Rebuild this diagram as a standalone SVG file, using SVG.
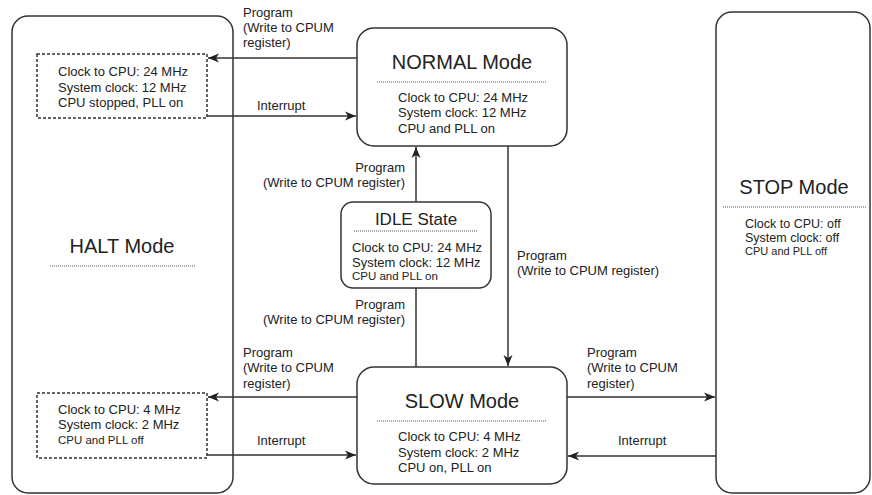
<svg xmlns="http://www.w3.org/2000/svg" width="872" height="495" viewBox="0 0 872 495">
<defs>
<marker id="ah" markerUnits="userSpaceOnUse" markerWidth="12" markerHeight="10" refX="11" refY="5" orient="auto">
<path d="M0,0.5 L11,5 L0,9.5 L3,5 z" fill="#222"/>
</marker>
<style>
text{font-family:"Liberation Sans",Arial,sans-serif;fill:#222}
.t{font-size:13px}
.s{font-size:11.5px}
.st{font-size:12.5px}
.ss{font-size:11px}
.l{font-size:13px}
.h{font-size:20px;text-anchor:middle}
.h2{font-size:17px;text-anchor:middle}
.box{fill:#fff;stroke:#333;stroke-width:1.5}
.dash{fill:none;stroke:#333;stroke-width:1.5;stroke-dasharray:3 2}
.dot{stroke:#555;stroke-width:1;stroke-dasharray:1 1}
.c{fill:none;stroke:#333;stroke-width:1.5}
.a{marker-end:url(#ah)}
</style>
</defs>
<rect width="872" height="495" fill="#fff"/>
<g id="halt">
<rect class="box" x="12" y="16" width="221" height="477" rx="16"/>
<text class="h" x="122" y="253">HALT Mode</text>
<line class="dot" x1="50" y1="266" x2="195" y2="266"/>
<rect class="dash" x="37" y="54" width="170" height="64"/>
<text class="t" x="58" y="76">Clock to CPU: 24 MHz</text>
<text class="t" x="58" y="92">System clock: 12 MHz</text>
<text class="t" x="58" y="107">CPU stopped, PLL on</text>
<rect class="dash" x="37" y="393" width="170" height="65"/>
<text class="t" x="58" y="414">Clock to CPU: 4 MHz</text>
<text class="t" x="58" y="429">System clock: 2 MHz</text>
<text class="s" x="58" y="444">CPU and PLL off</text>
</g>
<g id="stop">
<rect class="box" x="716" y="12" width="154" height="481" rx="16"/>
<text class="h" x="794" y="194">STOP Mode</text>
<line class="dot" x1="723" y1="207" x2="866" y2="207"/>
<text class="st" x="745" y="228">Clock to CPU: off</text>
<text class="st" x="745" y="242">System clock: off</text>
<text class="ss" x="745" y="255">CPU and PLL off</text>
</g>
<g id="normal">
<rect class="box" x="357" y="28" width="210" height="118" rx="17"/>
<text class="h" x="462" y="69">NORMAL Mode</text>
<line class="dot" x1="377" y1="82" x2="547" y2="82"/>
<text class="t" x="398" y="102">Clock to CPU: 24 MHz</text>
<text class="t" x="398" y="117">System clock: 12 MHz</text>
<text class="t" x="398" y="133">CPU and PLL on</text>
</g>
<g id="idle">
<rect class="box" x="341" y="202" width="150" height="86" rx="12"/>
<text class="h2" x="416" y="225">IDLE State</text>
<line class="dot" x1="354" y1="231" x2="477" y2="231"/>
<text class="t" x="352" y="252">Clock to CPU: 24 MHz</text>
<text class="t" x="352" y="267">System clock: 12 MHz</text>
<text class="s" x="352" y="280">CPU and PLL on</text>
</g>
<g id="slow">
<rect class="box" x="357" y="367" width="210" height="117" rx="17"/>
<text class="h" x="462" y="408">SLOW Mode</text>
<line class="dot" x1="377" y1="421" x2="547" y2="421"/>
<text class="t" x="398" y="441">Clock to CPU: 4 MHz</text>
<text class="t" x="398" y="457">System clock: 2 MHz</text>
<text class="t" x="398" y="472">CPU on, PLL on</text>
</g>
<g id="connectors">
<line class="c a" x1="357" y1="58" x2="208" y2="58"/>
<line class="c a" x1="207" y1="116" x2="356" y2="116"/>
<line class="c a" x1="416" y1="202" x2="416" y2="147"/>
<line class="c" x1="416" y1="288" x2="416" y2="367"/>
<line class="c a" x1="508" y1="146" x2="508" y2="366"/>
<line class="c a" x1="357" y1="397" x2="208" y2="397"/>
<line class="c a" x1="207" y1="455" x2="356" y2="455"/>
<line class="c a" x1="567" y1="397" x2="715" y2="397"/>
<line class="c a" x1="716" y1="456" x2="568" y2="456"/>
<text class="l" x="243" y="17">Program</text>
<text class="l" x="243" y="32">(Write to CPUM</text>
<text class="l" x="243" y="47">register)</text>
<text class="l" x="257" y="110">Interrupt</text>
<text class="l" x="405" y="172" text-anchor="end">Program</text>
<text class="l" x="405" y="187" text-anchor="end">(Write to CPUM register)</text>
<text class="l" x="405" y="309" text-anchor="end">Program</text>
<text class="l" x="405" y="324" text-anchor="end">(Write to CPUM register)</text>
<text class="l" x="517" y="260">Program</text>
<text class="l" x="517" y="275">(Write to CPUM register)</text>
<text class="l" x="243" y="357">Program</text>
<text class="l" x="243" y="372">(Write to CPUM</text>
<text class="l" x="243" y="388">register)</text>
<text class="l" x="257" y="445">Interrupt</text>
<text class="l" x="587" y="357">Program</text>
<text class="l" x="587" y="372">(Write to CPUM</text>
<text class="l" x="587" y="388">register)</text>
<text class="l" x="618" y="445">Interrupt</text>
</g>
</svg>
